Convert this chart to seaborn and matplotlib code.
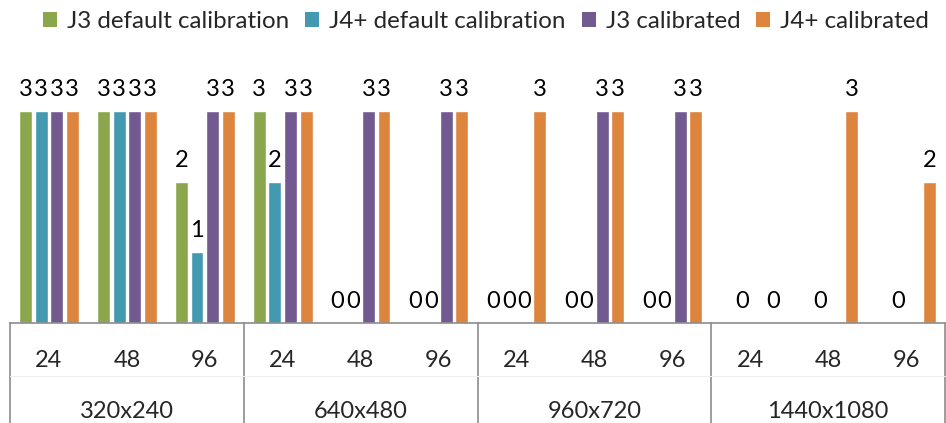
import matplotlib
matplotlib.use("Agg")
import matplotlib.pyplot as plt
import matplotlib.transforms as mtransforms
from matplotlib.patches import Patch
import seaborn as sns
import pandas as pd
import numpy as np

# ---- data ----
resolutions = ["320x240", "640x480", "960x720", "1440x1080"]
dpis = ["24", "48", "96"]
series = ["J3 default calibration", "J4+ default calibration", "J3 calibrated", "J4+ calibrated"]
nan = np.nan
j3_default = [3, 3, 2, 3, 0, 0, 0, 0, 0, nan, nan, nan]
j4_default = [3, 3, 1, 2, 0, 0, 0, 0, 0, 0, 0, 0]
j3_calibrated = [3, 3, 3, 3, 3, 3, 0, 3, 3, nan, nan, nan]
j4_calibrated = [3, 3, 3, 3, 3, 3, 3, 3, 3, 0, 3, 2]
colors = ["#8BA74E", "#4299B0", "#725990", "#DD843D"]

categories = [f"{r} {d}" for r in resolutions for d in dpis]
values = [j3_default, j4_default, j3_calibrated, j4_calibrated]

rows = []
for s, vals in zip(series, values):
    for c, v in zip(categories, vals):
        rows.append({"cat": c, "series": s, "value": v})
df = pd.DataFrame(rows).dropna()

sns.set_style("white")
plt.rcParams["font.family"] = ["Lato", "DejaVu Sans"]

W, H = 946, 423
fig = plt.figure(figsize=(W / 100, H / 100), dpi=100)
ax_left, ax_right = 10, 945
base_px, top_px = 323, 68
ax = fig.add_axes([ax_left / W, (H - base_px) / H, (ax_right - ax_left) / W, (base_px - top_px) / H])
ax_h = base_px - top_px

sns.barplot(data=df, x="cat", y="value", hue="series", order=categories, hue_order=series,
            palette=colors, saturation=1, width=0.8, gap=0.17, errorbar=None,
            ax=ax, legend=False)

for cont in ax.containers:
    ax.bar_label(cont, fmt="%g", padding=8, fontsize=17, color="black")

ax.set_xlim(-0.5, len(categories) - 0.5)
ax.set_ylim(0, 3 * ax_h / (323 - 111))
ax.set_xlabel("")
ax.set_ylabel("")
ax.set_xticks([])
ax.set_yticks([])
for sp in ["top", "left", "right"]:
    ax.spines[sp].set_visible(False)
ax.spines["bottom"].set_color("#8C8C8C")
ax.spines["bottom"].set_linewidth(1.2)

trans = mtransforms.blended_transform_factory(ax.transData, ax.transAxes)
# tick labels row
for i, c in enumerate(categories):
    ax.text(i, -37 / ax_h, dpis[i % 3], transform=trans, ha="center", va="center", fontsize=17)
# group labels
for g, r in enumerate(resolutions):
    ax.text(3 * g + 1, -88 / ax_h, r, transform=trans, ha="center", va="center", fontsize=17)
# dividers
for g in range(len(resolutions) + 1):
    x = 3 * g - 0.5
    ax.plot([x, x], [0, -0.5], transform=trans, color="#8C8C8C", lw=1.2, clip_on=False)
ax.plot([-0.5, len(categories) - 0.5], [-53 / ax_h, -53 / ax_h], transform=trans,
        color="#EEEEEE", lw=0.8, clip_on=False)

# fit legend font so first entry text is ~222 px wide like the reference
renderer = fig.canvas.get_renderer()
probe = fig.text(0, 0, series[0], fontsize=10)
pw = probe.get_window_extent(renderer).width
probe.remove()
leg_fs = 10 * 222 / pw
px2em = 72 / 100 / leg_fs  # px -> em units at this font size

handles = [Patch(facecolor=c, edgecolor="none") for c in colors]
fig.legend(handles, series, loc="center", bbox_to_anchor=(486 / W, 1 - 22 / H), ncol=4,
           frameon=False, fontsize=leg_fs, handlelength=14 * px2em, handleheight=14 * px2em,
           handletextpad=10 * px2em, columnspacing=16 * px2em, borderaxespad=0, borderpad=0)

fig.savefig("out.png", dpi=100)
